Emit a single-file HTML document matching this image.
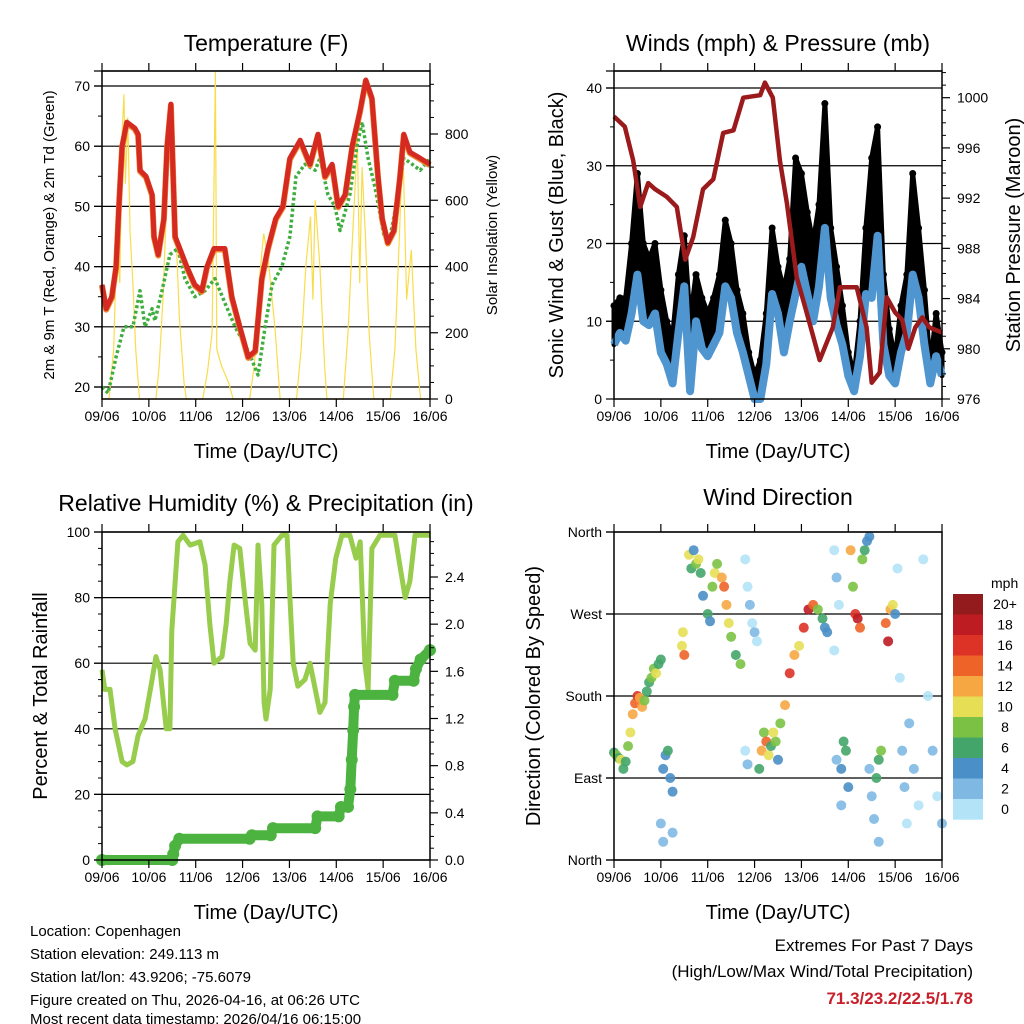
<!DOCTYPE html>
<html><head><meta charset="utf-8"><style>
html,body{margin:0;padding:0;background:#fff}
svg{display:block;font-family:"Liberation Sans",Arial,sans-serif}
</style></head><body>
<svg id="svg" width="1024" height="1024" viewBox="0 0 1024 1024" xmlns="http://www.w3.org/2000/svg">
<g id="g-back"></g><g id="g-data"></g><g id="g-axes"></g>
<g id="g-text" fill="#000">
<text x="266" y="51" font-size="23" text-anchor="middle">Temperature (F)</text>
<text x="778" y="51" font-size="23" text-anchor="middle">Winds (mph) &amp; Pressure (mb)</text>
<text x="266" y="511" font-size="23" text-anchor="middle">Relative Humidity (%) &amp; Precipitation (in)</text>
<text x="778" y="505" font-size="23" text-anchor="middle">Wind Direction</text>
<text x="266" y="458" font-size="20" text-anchor="middle">Time (Day/UTC)</text>
<text x="778" y="458" font-size="20" text-anchor="middle">Time (Day/UTC)</text>
<text x="266" y="919" font-size="20" text-anchor="middle">Time (Day/UTC)</text>
<text x="778" y="919" font-size="20" text-anchor="middle">Time (Day/UTC)</text>
<text transform="translate(54,235) rotate(-90)" font-size="15" text-anchor="middle">2m &amp; 9m T (Red, Orange) &amp; 2m Td (Green)</text>
<text transform="translate(497,235) rotate(-90)" font-size="15" text-anchor="middle">Solar Insolation (Yellow)</text>
<text transform="translate(563,235) rotate(-90)" font-size="20" text-anchor="middle">Sonic Wind &amp; Gust (Blue, Black)</text>
<text transform="translate(1020,235) rotate(-90)" font-size="20" text-anchor="middle">Station Pressure (Maroon)</text>
<text transform="translate(47,696) rotate(-90)" font-size="20" text-anchor="middle">Percent &amp; Total Rainfall</text>
<text transform="translate(540,696) rotate(-90)" font-size="20" text-anchor="middle">Direction (Colored By Speed)</text>
<g font-size="15">
<text x="30" y="936">Location: Copenhagen</text>
<text x="30" y="959">Station elevation: 249.113 m</text>
<text x="30" y="982">Station lat/lon: 43.9206; -75.6079</text>
<text x="30" y="1005">Figure created on Thu, 2026-04-16, at 06:26 UTC</text>
<text x="30" y="1024" transform="translate(0,0)">Most recent data timestamp: 2026/04/16 06:15:00</text>
</g>
<g font-size="17" text-anchor="end">
<text x="973" y="951">Extremes For Past 7 Days</text>
<text x="973" y="977">(High/Low/Max Wind/Total Precipitation)</text>
<text x="973" y="1004" fill="#c8202a" font-weight="bold">71.3/23.2/22.5/1.78</text>
</g>
</g>
</svg>
<script>
// ---- data ----
const dayLabels=["09/06","10/06","11/06","12/06","13/06","14/06","15/06","16/06"];
const tempT=[0,.09,.21,.30,.36,.43,.53,.70,.77,.81,.94,1.07,1.11,1.20,1.24,1.32,1.39,1.47,1.56,1.66,1.81,1.98,2.13,2.24,2.39,2.62,2.77,2.94,3.12,3.27,3.41,3.54,3.71,3.86,4.01,4.23,4.44,4.61,4.76,4.91,5.04,5.19,5.34,5.51,5.63,5.76,5.89,5.98,6.10,6.23,6.36,6.44,6.57,6.79,7];
const tempV=[37,33,35,40,50,60,64,63,62,56,55,52,45,42,44,48,60,67,45,43,40,37,36,40,43,43,35,30,25,26,38,43,48,50,58,61,57,62,55,57,50,52,60,66,71,68,55,48,44,46,55,62,59,58,57];
const dewT=[0,.13,.3,.47,.66,.81,.92,1.07,1.13,1.28,1.45,1.62,1.77,1.98,2.2,2.41,2.62,2.84,3.12,3.33,3.48,3.63,3.84,4.01,4.14,4.33,4.55,4.65,4.82,4.97,5.08,5.29,5.44,5.55,5.68,5.83,6.02,6.15,6.32,6.44,6.62,6.79,7];
const dewV=[20,19,25,30,30,36,30,33,31,36,42,43,38,35,36,38,34,30,26,22,30,37,40,45,55,57,56,58,52,50,46,52,60,64,58,53,45,45,52,58,57,56,58];
const solarT=[0,.15,.25,.32,.38,.43,.47,.5,.55,.6,.66,.72,.8,1.15,1.22,1.3,1.38,1.45,1.48,1.52,1.58,1.65,1.75,1.8,2.15,2.25,2.35,2.42,2.45,2.55,2.7,2.8,3.15,3.25,3.35,3.45,3.55,3.7,3.8,4.15,4.25,4.35,4.45,4.5,4.55,4.65,4.75,4.8,5.15,5.25,5.35,5.45,5.5,5.55,5.62,5.7,5.8,6.15,6.25,6.35,6.42,6.5,6.6,6.7,6.8,7];
const solarV=[0,0,150,500,350,800,920,650,850,500,350,150,0,0,100,300,600,850,700,880,500,250,50,0,0,80,200,990,150,100,50,0,0,100,350,500,420,200,0,0,150,400,550,300,600,400,100,0,0,200,500,780,350,700,500,200,0,0,150,500,780,300,450,150,0,0];
const windT=[];for(let i=0;i<=56;i++)windT.push(i*0.125);
const windV=[7,8.5,7.5,11,16,10,9.5,11,6,4.5,2,8.5,14.5,1,10,6.5,5.5,7,8.5,14.5,13,8.5,6,3,0,0,4.5,13.5,11,6,10,13.5,17,13.5,10,14.5,22,13,9.5,7,3,1,5.5,13.5,13,21,7,3,2,6,8.5,16,13,7,2,5.5,3];
const gustV=[12,13,13,20,29,20,18,20,14,10,8,16,21,10,16,13,11,13,16,23,20,14,11,6,3,5,11,22,17,14,18,31,29,24,20,25,38,22,17,12,6,3,10,22,31,35,16,9,5,12,16,29,22,14,4,11,6];
const presT=[0,.23,.41,.56,.73,.88,1.13,1.34,1.52,1.69,1.9,2.12,2.33,2.55,2.76,3.12,3.22,3.39,3.54,3.69,3.9,4.11,4.39,4.67,4.82,5.18,5.39,5.5,5.67,5.82,6.0,6.15,6.28,6.43,6.58,6.73,7];
const presV=[998.5,997.7,995,991.3,993.2,992.7,992.1,991.3,987.1,988.9,992.7,993.5,997.2,997.4,1000,1000.2,1001.2,1000,995,991.6,985.7,982.9,979.1,981.7,984.9,984.9,981.7,977.3,978.1,984.1,982.9,982.3,980,981.7,982.5,981.7,981.3];
const rhT=[0,.06,.17,.28,.43,.53,.66,.77,.92,1.07,1.15,1.24,1.37,1.45,1.49,1.62,1.73,1.88,2.09,2.2,2.3,2.39,2.56,2.65,2.73,2.82,2.94,3.05,3.16,3.27,3.33,3.41,3.46,3.5,3.59,3.67,3.84,3.95,4.01,4.08,4.18,4.33,4.44,4.65,4.76,4.87,4.99,5.12,5.29,5.42,5.51,5.61,5.68,5.76,5.93,6.25,6.47,6.57,6.68,7];
const rhV=[58,52,52,40,30,29,30,38,43,55,62,58,40,40,70,97,99,96,97,90,72,60,62,72,85,96,95,80,66,64,96,78,48,43,52,96,99,99,80,60,53,55,60,45,48,78,92,99,99,92,97,60,52,95,99,99,80,85,99,99];
const precT=[0,1.5,1.52,1.56,1.65,3.15,3.2,3.6,3.65,4.55,4.6,5.05,5.1,5.25,5.3,5.33,5.36,5.38,5.4,6.2,6.25,6.65,6.7,6.8,7];
const precV=[0,0,.05,.12,.18,.18,.21,.21,.27,.27,.37,.37,.45,.45,.6,.85,1.1,1.3,1.4,1.4,1.52,1.52,1.62,1.7,1.78];
const dirT=[0,.05,.1,.15,.2,.25,.3,.35,.4,.45,.5,.55,.6,.65,.7,.75,.8,.85,.9,.95,1.0,1.05,1.1,1.15,1.2,1.25,1.0,1.05,1.25,1.45,1.5,1.47,1.6,1.65,1.7,1.75,1.8,1.85,1.9,2.0,2.05,2.1,2.15,2.2,2.3,2.35,2.4,2.45,2.5,2.6,2.7,2.85,2.9,2.95,3.0,3.05,2.8,2.8,2.85,3.1,3.15,3.2,3.25,3.3,3.35,3.45,3.55,3.5,3.4,3.65,3.75,3.85,3.95,4.05,4.15,4.25,4.35,4.45,4.5,4.55,4.7,4.75,4.8,4.7,4.75,4.85,4.9,4.95,5.0,4.85,5.05,5.1,5.15,5.2,5.25,5.3,5.35,5.4,5.45,5.45,5.5,5.55,5.6,5.65,5.7,5.65,5.8,5.85,5.9,5.95,6.0,6.05,6.1,6.15,6.2,6.25,6.3,6.4,6.5,6.6,6.7,6.8,6.9,7.0];
const dirV=[118,115,112,110,100,108,125,140,160,172,180,178,168,175,185,195,200,210,205,215,220,100,115,120,90,75,40,20,30,235,225,250,335,320,340,325,330,315,290,270,262,300,315,325,310,300,280,260,245,225,215,300,280,260,250,240,330,120,105,100,120,140,130,115,125,130,150,110,140,170,205,225,235,255,275,280,275,265,255,250,340,310,280,230,110,100,130,120,80,60,340,300,270,265,255,330,340,350,355,100,70,45,90,110,120,20,260,240,275,280,270,320,200,120,80,40,150,100,60,330,180,120,70,40];
const dirS=[6,8,7,10,7,6,9,10,12,14,17,13,12,8,6,7,9,8,10,7,6,5,4,6,4,4,2,3,3,11,15,10,10,6,4,8,10,6,4,6,5,8,10,9,12,14,12,11,8,6,8,1,2,1,2,1,1,1,2,6,12,9,14,10,6,8,8,4,10,12,16,13,11,17,19,14,8,6,4,5,1,2,1,1,3,5,6,7,4,3,12,8,17,19,14,8,6,4,4,2,2,2,6,7,8,2,14,18,12,11,4,1,1,2,2,1,3,2,1,1,1,2,1,3];
const cbLabels=["20+","18","16","14","12","10","8","6","4","2","0"];
const cbColors=["#931a1d","#bd1c23","#dd3226","#ee6328","#f6a742","#e6df55","#7bc244","#44a56a","#4a8fc7","#7fb9e3","#b3e3f7"];

// ---- helpers ----
const NS="http://www.w3.org/2000/svg";
function mk(tag,attrs,parent){const e=document.createElementNS(NS,tag);for(const k in attrs)e.setAttribute(k,attrs[k]);parent.appendChild(e);return e;}
const gB=document.getElementById('g-back'),gD=document.getElementById('g-data'),gA=document.getElementById('g-axes');
function panel(x0,x1,y0,y1){return {x0,x1,y0,y1,xs:t=>x0+t/7*(x1-x0)};}
function lin(v0,v1,p0,p1){return v=>p0+(v-v0)/(v1-v0)*(p1-p0);}
const P1=panel(102,430,71,399),P2=panel(614,942,71,399),P3=panel(102,430,532,860),P4=panel(614,942,532,860);
const yT=lin(20,70,387,86), ySol=lin(0,800,399,134);
const yW=lin(0,40,399,88), yP=lin(976,1000,399,97.7);
const yRH=lin(0,100,860,532), yPr=lin(0,2.4,860,577);
const yDir=lin(0,360,860,532);

function pts(P,T,V,ys){return T.map((t,i)=>P.xs(t).toFixed(1)+","+ys(V[i]).toFixed(1)).join(" ");}

function axes(P,name,left,right,grid){
  const g=mk('g',{},gA);
  
  
  grid.forEach(v=>{const l=mk('line',{x1:P.x0-8,x2:P.x1,y1:v,y2:v,stroke:'#000','stroke-width':1.2},gB);
    
    });
  const r=mk('rect',{x:P.x0,y:P.y0,width:P.x1-P.x0,height:P.y1-P.y0,fill:'none',stroke:'#000','stroke-width':1.5},g);
  
  
  dayLabels.forEach((d,i)=>{const x=P.xs(i);
    mk('line',{x1:x,x2:x,y1:P.y1,y2:P.y1+8,stroke:'#000','stroke-width':1.2},g);
    mk('line',{x1:x,x2:x,y1:P.y0,y2:P.y0-8,stroke:'#000','stroke-width':1.2},g);
    const t=mk('text',{x:x,y:P.y1+22,'font-size':14,'text-anchor':'middle'},g);t.textContent=d;
    
    });
  left.forEach(o=>{ if(o.major){mk('line',{x1:P.x0-8,x2:P.x0,y1:o.y,y2:o.y,stroke:'#000','stroke-width':1.2},g);
      if(o.label!==undefined){const t=mk('text',{x:P.x0-12,y:o.y+5,'font-size':14,'text-anchor':'end'},g);t.textContent=o.label;
      
      }}
    else mk('line',{x1:P.x0-4,x2:P.x0,y1:o.y,y2:o.y,stroke:'#000','stroke-width':1},g);});
  right.forEach(o=>{ if(o.major){mk('line',{x1:P.x1,x2:P.x1+8,y1:o.y,y2:o.y,stroke:'#000','stroke-width':1.2},g);
      const t=mk('text',{x:P.x1+15,y:o.y+5,'font-size':14},g);t.textContent=o.label;
      
      }
    else mk('line',{x1:P.x1,x2:P.x1+4,y1:o.y,y2:o.y,stroke:'#000','stroke-width':1},g);});
}
function ticks(v0,v1,step,major,ys,fmt){const a=[];for(let v=v0;v<=v1+1e-9;v+=step){const m=Math.abs(v/major-Math.round(v/major))<1e-6;a.push({y:ys(v),major:m,label:m?fmt(v):undefined});}return a;}

// ---- panel 1 ----
axes(P1,'temperature',ticks(20,70,5,10,yT,v=>String(v)),ticks(0,950,50,200,ySol,v=>String(v)),[20,30,40,50,60,70].map(yT).concat([P1.y0]));
let e;
e=mk('polyline',{points:pts(P1,solarT,solarV,ySol),fill:'none',stroke:'#f9dc4c','stroke-width':1.2},gD);


e=mk('polyline',{points:pts(P1,dewT,dewV,yT),fill:'none',stroke:'#3fae3f','stroke-width':3.5,'stroke-dasharray':'3 2.5','stroke-linejoin':'round'},gD);


e=mk('polyline',{points:pts(P1,tempT,tempV,yT),fill:'none',stroke:'#f08a30','stroke-width':6,'stroke-linejoin':'round',transform:'translate(0,1)'},gD);


e=mk('polyline',{points:pts(P1,tempT,tempV,yT),fill:'none',stroke:'#d42a22','stroke-width':5,'stroke-linejoin':'round'},gD);



// ---- panel 2 ----
axes(P2,'winds',ticks(0,40,5,10,yW,v=>String(v)),ticks(976,1002,1,4,yP,v=>String(v)),[10,20,30,40].map(yW).concat([P2.y0]));
const gustPoly=windT.map((t,i)=>P2.xs(t).toFixed(1)+","+yW(gustV[i]).toFixed(1)).concat(windT.slice().reverse().map((t,j)=>{const i=windT.length-1-j;return P2.xs(t).toFixed(1)+","+yW(windV[i]).toFixed(1);})).join(" ");
e=mk('polygon',{points:gustPoly,fill:'#000',stroke:'#000','stroke-width':5,'stroke-linejoin':'round'},gD);


windT.forEach((t,i)=>{const c=mk('circle',{cx:P2.xs(t),cy:yW(gustV[i]),r:3.5,fill:'#000'},gD);
  
  });
e=mk('polyline',{points:pts(P2,windT,windV,yW),fill:'none',stroke:'#4f95d0','stroke-width':8,'stroke-linejoin':'round'},gD);


e=mk('polyline',{points:pts(P2,presT,presV,yP),fill:'none',stroke:'#9b1a1c','stroke-width':4.5,'stroke-linejoin':'round'},gD);



// ---- panel 3 ----
axes(P3,'humidity',ticks(0,100,5,20,yRH,v=>String(v)),ticks(0,2.7,0.1,0.4,yPr,v=>v.toFixed(1)),[0,20,40,60,80,100].map(yRH));
e=mk('polyline',{points:pts(P3,rhT,rhV,yRH),fill:'none',stroke:'#97cc4d','stroke-width':5,'stroke-linejoin':'round'},gD);


e=mk('polyline',{points:pts(P3,precT,precV,yPr),fill:'none',stroke:'#4db340','stroke-width':10,'stroke-linejoin':'round','stroke-linecap':'round'},gD);


precT.forEach((t,i)=>{const c=mk('circle',{cx:P3.xs(t),cy:yPr(precV[i]),r:6,fill:'#4db340'},gD);
  
  });

// ---- panel 4 ----
const dirLab=["North","East","South","West","North"];
const dirTicks=[0,90,180,270,360].map((v,i)=>({y:yDir(v),major:true,label:dirLab[i]}));
axes(P4,'wind-direction',dirTicks,[],[0,90,180,270,360].map(yDir));
function spdColor(s){let idx=Math.min(10,Math.max(0,Math.floor(s/2)));return cbColors[10-idx];}
dirT.forEach((t,i)=>{const c=mk('circle',{cx:P4.xs(t),cy:yDir(dirV[i]),r:5,fill:spdColor(dirS[i]),'fill-opacity':0.9},gD);
  
  });
// colorbar
const cb=mk('g',{},gA);


const cbT=mk('text',{x:991,y:588,'font-size':14},cb);cbT.textContent="mph";
cbLabels.forEach((l,i)=>{const y=594+i*20.5;
  mk('rect',{x:953,y:y,width:30,height:20.7,fill:cbColors[i]},cb);
  const t=mk('text',{x:1005,y:y+15,'font-size':14,'text-anchor':'middle'},cb);t.textContent=l;
  
  });
</script>
</body></html>
